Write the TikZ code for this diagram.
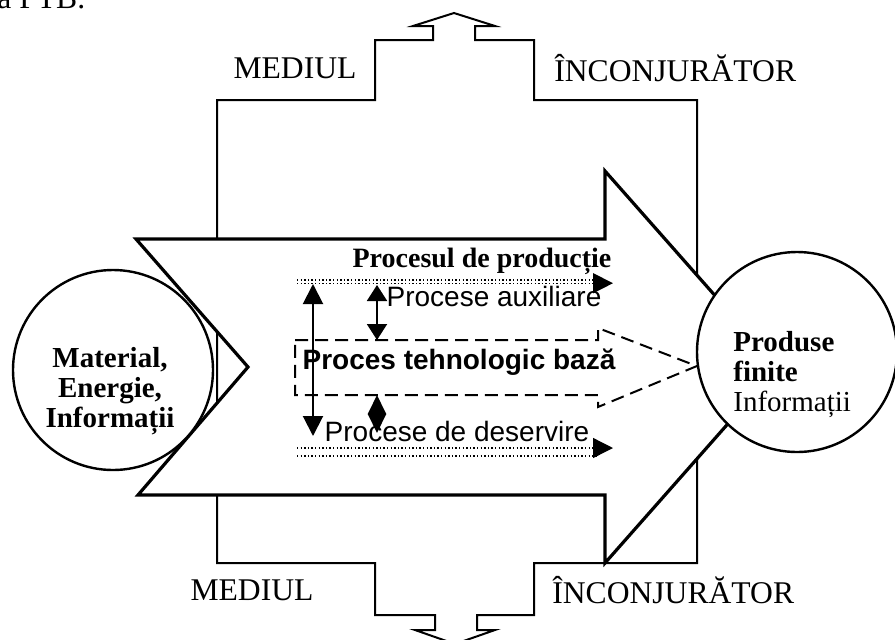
\documentclass[tikz,border=0pt]{standalone}
\usepackage{fontspec}
\setmainfont{Liberation Serif}
\setsansfont{Liberation Sans}
\usepackage{tikz}
\usetikzlibrary{arrows.meta,positioning}
\newcommand{\envfont}{\fontsize{15.8}{17}\selectfont}
\newcommand{\blobfont}{\fontsize{14.5}{15}\selectfont}
\newcommand{\procfont}{\fontsize{14}{16}\selectfont\sffamily}
\tikzset{
  >={Triangle[length=10pt,width=10pt]},
  envline/.style={line width=1pt,line join=miter},
  bigarrow/.style={line width=1.6pt,fill=white,line join=miter},
  blob/.style={circle,draw,line width=1.2pt,fill=white,minimum size=100pt,inner sep=0pt},
  baseflow/.style={line width=1pt,dash pattern=on 6.5pt off 3.5pt},
  dotrow/.style={line width=0.7pt,dash pattern=on 0.7pt off 1.1pt},
  twoway/.style={<->,line width=1pt},
}

\begin{document}
\begin{tikzpicture}[x=0.5pt,y=-0.5pt]
  \useasboundingbox (0,0) rectangle (895,639);
  \node[anchor=base west,font=\envfont,inner sep=0pt] (frag) at (-3,8) {a PTB.};
  % mediul inconjurator, with its two exchange arrows
  \draw[envline] (217,240) -- (217,100) -- (375,100) -- (375,40) -- (433,40) -- (433,26)
    -- (413,26) -- (454,13) -- (495,26) -- (475,26) -- (475,40) -- (534,40) -- (534,100)
    -- (697,100) -- (697,563) -- (534,563) -- (534,615) -- (477,615) -- (477,630)
    -- (495,630) -- (455,644) -- (415,630) -- (435,630) -- (435,615) -- (375,615)
    -- (375,563) -- (217,563) -- cycle;
  \node[font=\envfont] (medtop) at (295,68) {MEDIUL};
  \node[font=\envfont,anchor=west,inner sep=0pt] (inctop) at (554,68) {ÎNCONJURĂTOR};
  \node[font=\envfont] (medbot) at (252,590) {MEDIUL};
  \node[font=\envfont,anchor=west,inner sep=0pt] (incbot) at (552,590) {ÎNCONJURĂTOR};
  % the large flow arrow
  \draw[bigarrow] (136,239) -- (605,239) -- (605,171) -- (778,367) -- (605,563)
    -- (605,495) -- (138,495) -- (248,367) -- cycle;
  \node[blob] (input) at (113,370) {};
  \node[align=center,font=\blobfont\bfseries] (intxt) at (110,391) {Material,\\Energie,\\Informații};
  \node[blob] (output) at (797,352) {};
  \node[align=left,anchor=west,font=\blobfont,inner sep=0pt] (outtxt) at (733,375)
    {\textbf{Produse}\\\textbf{finite}\\Informații};
  % proces tehnologic de baza
  \draw[baseflow] (295,340) -- (598,340) -- (598,328) -- (output.188) -- (598,407)
    -- (598,395) -- (295,395) -- cycle;
  \node[font=\procfont\bfseries] (base) at (459,362) {Proces tehnologic bază};
  \node[font=\fontsize{14}{16}\selectfont\bfseries] (prod) at (482,261) {Procesul de producție};
  \coordinate (auxl) at (297,280);
  \coordinate (auxr) at (613,280);
  \coordinate (desl) at (297,448);
  \coordinate (desr) at (613,448);
  \draw[dotrow] (auxl) -- ([xshift=-6pt]auxr);
  \draw[dotrow,->] ([yshift=-1.6pt]auxl) -- ([yshift=-1.6pt]auxr);
  \draw[dotrow] ([yshift=-4pt]desl) -- ([yshift=-4pt,xshift=-8pt]desr);
  \draw[dotrow,->] (desl) -- (desr);
  \node[font=\procfont] (aux) at (494,296) {Procese auxiliare};
  \node[font=\procfont] (des) at (457,431) {Procese de deservire};
  \draw[twoway] (313,284) -- (313,436);
  \draw[twoway,>={Triangle[length=8pt,width=10pt]}] (377,285) -- (377,340);
  \draw[twoway,>={Triangle[length=9.5pt,width=9pt]}] (377,395) -- (377,433);
\end{tikzpicture}
\end{document}
